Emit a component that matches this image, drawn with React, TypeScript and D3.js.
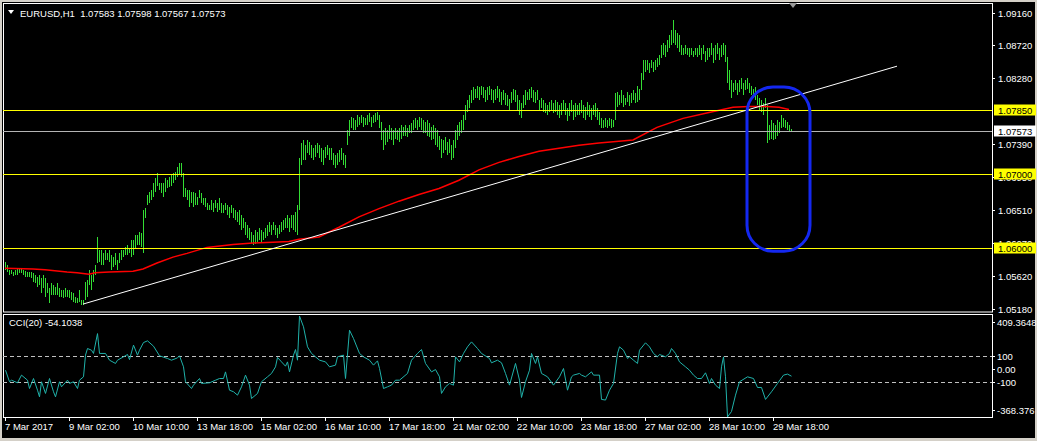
import React from "react";
import * as d3 from "d3";

// ---------- DATA ----------
// H1 bars, prices stored in pips above 1.05000
const PIP_BASE = 1.05;
const PIP = 0.0001;

const barLow = [
71,68,64,65,63,64,64,67,67,64,61,61,61,60,54,53,48,50,40,46,34,40,26,37,37,37,37,34,34,33,34,34,33,30,28,26,26,28,24,24,
30,34,50,44,54,64,80,81,77,77,84,84,81,71,75,77,71,80,84,88,91,91,93,88,91,100,104,104,101,93,140,158,161,164,168,175,184,178,174,168,
175,180,182,184,188,191,195,198,195,168,168,164,155,160,155,158,158,167,160,158,155,151,151,151,148,154,148,151,147,147,151,144,140,147,140,138,135,131,124,127,
117,113,111,107,104,105,108,111,107,111,113,116,121,117,124,117,113,119,121,124,127,127,121,127,124,121,117,151,211,218,218,228,225,221,218,222,227,221,215,211,
221,225,218,218,211,207,211,215,218,211,207,238,251,261,258,258,262,265,268,262,265,265,269,262,268,269,272,261,245,231,238,242,247,245,238,247,245,242,247,251,
251,249,254,255,258,261,258,262,258,255,254,251,249,245,247,238,235,231,221,228,231,225,228,218,221,234,245,251,255,258,272,282,288,294,298,302,302,298,305,301,
296,298,305,298,294,298,302,296,292,298,292,290,285,294,298,296,285,278,275,288,292,298,298,301,296,294,298,285,288,282,281,278,282,285,281,282,278,274,278,285,
278,270,277,282,272,276,278,278,281,274,272,278,276,272,278,276,272,265,261,261,262,261,264,261,262,272,289,292,294,289,292,296,290,294,298,294,296,298,312,325,
336,339,335,341,336,339,343,345,355,359,356,363,368,372,375,372,369,363,359,359,361,359,356,359,356,359,356,359,352,361,349,352,356,359,348,352,361,352,356,359,
349,321,312,302,309,312,305,309,314,305,312,314,308,305,301,298,292,285,282,278,288,241,245,247,245,247,251,254,261,262,261,258,257,257
];
const barHigh = [
81,77,71,71,68,71,73,72,73,71,70,68,68,68,67,64,61,64,60,64,60,53,46,53,50,48,53,46,44,44,46,44,44,41,40,34,33,44,30,30,
54,57,71,64,71,77,115,97,97,93,97,94,97,91,88,93,84,93,97,97,101,104,100,111,111,117,117,121,120,151,154,171,175,178,187,194,201,188,188,187,
194,191,195,198,201,202,209,214,214,201,180,178,178,175,175,174,168,178,174,167,167,160,158,164,161,164,160,167,161,158,160,158,155,158,154,151,148,151,144,140,
135,131,127,121,117,124,121,127,124,121,127,131,135,131,135,131,127,131,135,138,140,144,140,144,144,148,158,221,241,245,238,245,242,238,234,238,241,238,234,231,
235,238,234,234,228,225,228,231,234,228,225,258,272,276,274,272,278,276,278,276,274,278,281,276,278,281,282,278,269,258,261,258,265,261,258,261,258,261,265,262,
265,261,265,268,272,274,272,276,274,272,269,272,268,262,265,261,258,251,247,245,249,242,247,238,245,258,265,269,272,278,292,298,305,312,316,314,318,316,318,316,
312,316,318,314,312,314,318,314,309,312,308,305,300,309,314,312,305,298,295,305,312,309,314,316,312,309,312,298,301,298,294,292,296,298,294,298,296,292,294,298,
294,288,294,298,292,294,292,294,298,292,289,296,292,288,292,294,288,282,274,272,274,272,274,273,272,308,309,305,312,305,302,309,305,308,312,308,318,314,335,352,
352,352,348,352,349,352,355,359,372,375,372,379,386,392,406,392,389,386,372,368,372,369,368,369,365,369,368,372,368,372,365,369,368,375,369,372,375,369,372,375,
372,356,339,325,322,325,321,325,328,322,325,328,322,318,314,316,305,302,298,294,301,292,265,272,268,265,272,269,278,274,272,269,265,260
];

// moving average (red) read at sample bars
const maBars = [0,14,20,31,36,42,45,52,64,69,76,84,91,101,114,124,134,142,147,157,167,177,187,197,207,217,227,237,247,257,267,277,287,297,314,326,339,352,364,372,381,387,392];
const maPips = [73,72,71,68,67,65,67,68,69,72,80,88,93,101,105,107,108,109,112,115,128,142,153,163,172,180,191,205,215,223,230,234,238,241,245,262,274,282,289,290,290,289,286];

// CCI(20) read at sample bars
const cciBars = [0,2,3,6,8,11,12,14,16,17,18,20,22,24,25,27,28,31,32,34,36,37,39,40,41,43,44,46,47,50,52,55,56,59,61,62,64,66,67,69,71,74,77,81,83,86,87,89,90,93,94,97,98,102,105,107,109,110,112,114,116,118,120,122,123,126,128,131,133,135,136,138,140,141,142,144,145,146,147,149,151,153,157,160,162,165,166,169,170,172,174,177,179,182,184,186,187,189,191,193,195,197,201,203,206,208,210,213,215,217,218,220,222,224,225,227,229,231,233,236,238,242,243,246,248,250,252,255,257,258,260,262,263,265,266,268,271,274,277,279,281,283,284,287,288,290,293,294,297,298,300,302,304,306,307,309,311,312,314,316,317,320,322,324,326,327,330,332,333,335,337,340,342,344,346,348,350,352,353,355,357,358,359,360,361,363,365,367,371,374,376,378,380,383,386,389,391,393];
const cciVals = [-8,-97,-85,-105,-46,-85,-149,-72,-162,-213,-97,-187,-72,-174,-213,-97,-136,-85,-110,-97,-149,-85,-59,108,159,146,121,274,121,121,69,44,69,95,113,74,185,108,146,205,218,177,103,82,69,87,103,18,-97,-149,-123,-72,-110,-105,-85,-72,-72,-21,-162,-174,-200,-136,-46,-123,-226,-187,-97,-59,-33,18,90,56,23,56,-21,108,151,69,409,326,172,121,69,56,18,31,95,108,-72,300,236,121,95,69,31,64,5,-149,-136,-123,-85,-85,-33,69,121,151,44,-21,-3,-59,-187,-136,-110,-123,95,56,121,172,210,159,121,82,49,69,49,-33,-123,44,-85,-218,-97,-8,121,44,95,-33,-59,-123,-59,5,-162,-59,-46,-33,-46,-59,-21,-46,-46,-233,-238,-162,-110,121,172,146,82,95,69,44,146,203,172,121,95,113,95,121,159,121,56,18,-8,-46,-72,-72,-28,-110,-72,-123,-149,18,95,-59,-368,-326,-200,-97,-59,-72,-141,-141,-233,-174,-110,-46,-38,-54.1];

const timeLabelBars = [0,32,64,96,128,160,192,224,256,288,320,352,384];
const timeLabels = ["7 Mar 2017","9 Mar 02:00","10 Mar 10:00","13 Mar 18:00","15 Mar 02:00","16 Mar 10:00","17 Mar 18:00","21 Mar 02:00","22 Mar 10:00","23 Mar 18:00","27 Mar 02:00","28 Mar 10:00","29 Mar 18:00"];

const priceTicks = [1.0916,1.0872,1.0828,1.0739,1.0695,1.0651,1.0607,1.0562,1.0518];
const levelLines = [1.0785,1.07,1.06];
const currentPrice = 1.07573;
const headerSymbol = "EURUSD,H1";
const headerOHLC = ["1.07583","1.07598","1.07567","1.07573"];

const cciName = "CCI(20) -54.1038";
const cciLevels = [100,-100];
const cciMax = 409.3648;
const cciMin = -368.376;
const cciAxis = [
  { v: cciMax, t: "409.3648" },
  { v: 100, t: "100" },
  { v: 0, t: "0.00" },
  { v: -100, t: "-100" },
  { v: cciMin, t: "-368.376" },
];

const trendLine = { b1: 39, p1: 1.0525, b2: 446, p2: 1.0844 };
const marker = { b1: 371, b2: 402.5, pTop: 1.0816, pBot: 1.0596 };

// ---------- CHART ----------
const W = 1037, H = 441;
const FONT = "'Liberation Sans', Arial, sans-serif";

export default function App() {
  const x = d3.scaleLinear().domain([0, 393]).range([5, 791]);
  const y = d3.scaleLinear().domain([1.0518, 1.0916]).range([309.3, 12.5]);
  const yc = d3.scaleLinear().domain([cciMin, cciMax]).range([417, 316]);
  const px = (p: number) => PIP_BASE + p * PIP;

  const maLine = d3.line<number>()
    .x((_, i) => x(maBars[i]))
    .y((d) => y(px(d)))(maPips) || "";
  const cciLine = d3.line<number>()
    .x((_, i) => x(cciBars[i]) + 0.5)
    .y((d) => yc(d))(cciVals) || "";

  const right = 992;
  const left = 3;

  const box = (p: number, bg: string, key: string) => {
    const yy = Math.round(y(p));
    return (
      <g key={key}>
        <rect x={994} y={yy - 5.5} width={42} height={11} fill={bg} />
        <text x={998} y={yy + 4} fill="#000" fontSize={9.5} fontFamily={FONT}>{p.toFixed(5)}</text>
      </g>
    );
  };

  const mx1 = x(marker.b1), mx2 = x(marker.b2);
  const my1 = y(marker.pTop), my2 = y(marker.pBot);

  return (
    <svg width={W} height={H} style={{ position: "absolute", left: 0, top: 0, display: "block" }}>
      <defs>
        <clipPath id="axisClip">
          <rect x={993} y={0} width={44} height={H} />
        </clipPath>
      </defs>
      <rect x={0} y={0} width={W} height={H} fill="#d4d0c8" />
      <rect x={2} y={2} width={1033} height={436} fill="#000" />

      {/* frames */}
      <rect x={left + 0.5} y={3.5} width={right - left} height={308.5} fill="none" stroke="#fff" strokeWidth={1} />
      <rect x={left + 0.5} y={314.5} width={right - left} height={103} fill="none" stroke="#fff" strokeWidth={1} />

      {/* price axis labels */}
      {priceTicks.map((p) => (
        <g key={"pt" + p}>
          <line x1={right} x2={right + 3} y1={Math.round(y(p)) + 0.5} y2={Math.round(y(p)) + 0.5} stroke="#fff" />
          <text x={998} y={y(p) + 4} fill="#fff" fontSize={9.5} fontFamily={FONT}>{p.toFixed(5)}</text>
        </g>
      ))}

      {/* bars */}
      <g stroke="#33dd33" strokeWidth={1}>
        {barLow.map((lo, i) => {
          const yt = Math.round(y(px(barHigh[i])));
          const yb = Math.max(Math.round(y(px(lo))), yt + 1);
          return <line key={i} x1={x(i) + 0.5} x2={x(i) + 0.5} y1={yt} y2={yb} />;
        })}
      </g>

      {/* moving average */}
      <path d={maLine} fill="none" stroke="#ff0000" strokeWidth={1.5} />

      {/* horizontal levels */}
      {levelLines.map((p) => (
        <line key={"lv" + p} x1={left} x2={right} y1={Math.round(y(p)) + 0.5} y2={Math.round(y(p)) + 0.5} stroke="#ffff00" />
      ))}
      <line x1={left} x2={right} y1={Math.round(y(currentPrice)) + 0.5} y2={Math.round(y(currentPrice)) + 0.5} stroke="#b4b4b4" />

      {/* trend line */}
      <line x1={x(trendLine.b1)} y1={y(trendLine.p1)} x2={x(trendLine.b2)} y2={y(trendLine.p2)} stroke="#fff" strokeWidth={1} />

      {/* blue marker */}
      <rect x={mx1} y={my1} width={mx2 - mx1} height={my2 - my1} rx={26} ry={26} fill="none" stroke="#1428f0" strokeWidth={3} />

      {/* level price boxes */}
      {levelLines.map((p) => box(p, "#ffff00", "bx" + p))}
      {box(currentPrice, "#ffffff", "cur")}

      {/* header */}
      <polygon points="8,10 14,10 11,14" fill="#fff" />
      <text x={20} y={16.5} fill="#fff" fontSize={9.5} fontFamily={FONT} style={{ whiteSpace: "pre" }}>
        {headerSymbol + "  " + headerOHLC.join(" ")}
      </text>
      <polygon points="789,3 797,3 793,8" fill="#9a9a9a" />

      {/* CCI panel */}
      {cciLevels.map((v) => (
        <line key={"cl" + v} x1={left} x2={right} y1={Math.round(yc(v)) + 0.5} y2={Math.round(yc(v)) + 0.5} stroke="#c0c0c0" strokeDasharray="4,3" />
      ))}
      <path d={cciLine} fill="none" stroke="#20b2aa" strokeWidth={1} />
      <text x={9} y={326} fill="#fff" fontSize={9.5} fontFamily={FONT}>{cciName}</text>
      {cciAxis.map((a) => {
        const yy = yc(a.v);
        const base = a.v === cciMax ? yy + 10 : a.v === cciMin ? yy - 3 : yy + 4;
        return (
          <g key={"ca" + a.t}>
            <line x1={right} x2={right + 3} y1={Math.round(base - 4) + 0.5} y2={Math.round(base - 4) + 0.5} stroke="#fff" />
            <text x={997} y={base} fill="#fff" fontSize={9.5} fontFamily={FONT}>{a.t}</text>
          </g>
        );
      })}

      {/* time axis */}
      {timeLabelBars.map((b, i) => (
        <g key={"ta" + b}>
          <line x1={x(b) + 0.5} x2={x(b) + 0.5} y1={417} y2={421} stroke="#fff" />
          <text x={x(b)} y={430} fill="#fff" fontSize={9.5} fontFamily={FONT}>{timeLabels[i]}</text>
        </g>
      ))}
    </svg>
  );
}
